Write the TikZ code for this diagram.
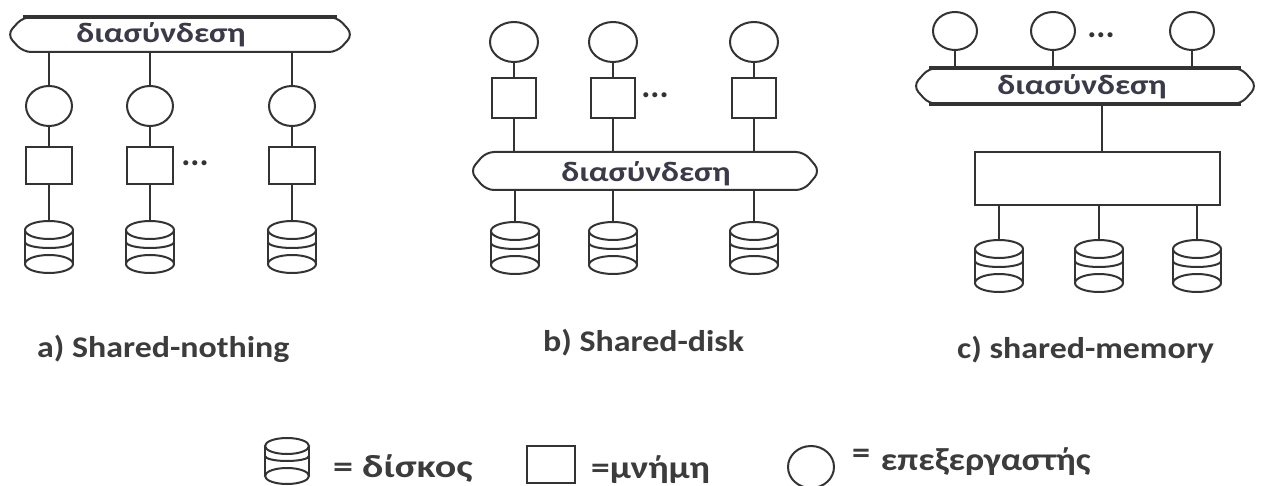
\documentclass[tikz,border=0pt]{standalone}
\usepackage{fontspec}
\setmainfont{Carlito}
\newfontfamily\labfont[FakeStretch=1.13]{Carlito}
\newfontfamily\legfont[FakeStretch=1.25]{Carlito}
\newfontfamily\legbfont[FakeStretch=1.17]{Carlito}
\newfontfamily\busfont[FakeStretch=1.2]{Carlito}
\usetikzlibrary{shapes.geometric,calc}
\definecolor{linec}{HTML}{333333}
\definecolor{textc}{HTML}{3C3C3C}
\definecolor{bustc}{HTML}{3A3A48}
\tikzset{
  ln/.style={draw=linec, line width=2pt},
  proc/.style={ellipse, ln, minimum width=46pt, minimum height=40pt, inner sep=0pt, outer sep=0pt},
  mem/.style={rectangle, ln, minimum width=46pt, minimum height=37pt, inner sep=0pt, outer sep=0pt},
  disknode/.style={rectangle, minimum width=48pt, minimum height=52pt, inner sep=0pt, outer sep=0pt},
  busnode/.style={rectangle, inner sep=0pt, outer sep=0pt},
  bustext/.style={text=bustc, font=\busfont\bfseries\fontsize{28}{30}\selectfont, inner sep=0pt, anchor=base},
  lab/.style={text=textc, font=\labfont\bfseries\fontsize{30}{32}\selectfont, inner sep=0pt},
  leg/.style={text=textc, font=\legfont\bfseries\fontsize{32}{34}\selectfont, inner sep=0pt},
  dotsn/.style={text=linec, font=\bfseries\fontsize{34}{34}\selectfont, inner sep=0pt},
}
\newcommand\cyl[5]{%
  \draw[ln] ([yshift=-#3]#1.north) ellipse[x radius=#2, y radius=#3];
  \draw[ln] ([yshift=#3]#1.south) ellipse[x radius=#2, y radius=#3];
  \draw[ln] ([yshift=-#3]#1.north west) -- ([yshift=#3]#1.south west);
  \draw[ln] ([yshift=-#3]#1.north east) -- ([yshift=#3]#1.south east);
  \draw[ln] ([yshift=-#4]#1.north west) arc[start angle=180, end angle=360, x radius=#2, y radius=#5];
}
\newcommand\busshape[1]{%
  \draw[ln, rounded corners=8pt] ([xshift=16pt]#1.north west) -- (#1.west) -- ([xshift=16pt]#1.south west) -- ([xshift=-16pt]#1.south east) -- (#1.east) -- ([xshift=-16pt]#1.north east) -- cycle;
}
\begin{document}
\begin{tikzpicture}[x=1pt, y=-1pt]
\useasboundingbox (0,0) rectangle (1261,486);
\fill[white] (0,0) rectangle (1261,486);

% ---------- panel a ----------
\node[busnode, minimum width=346pt, minimum height=35pt] (busA) at (180,34.5) {};
\busshape{busA}
\draw[linec, line width=4pt] ([xshift=16pt]busA.north west) -- ([xshift=-16pt]busA.north east);
\node[bustext] (busAt) at (161,43) {διασύνδεση};
\foreach \i/\x in {1/49, 2/150, 3/292} {
  \node[proc] (pa\i) at (\x,106) {};
  \node[mem] (ma\i) at (\x,166) {};
  \node[disknode] (da\i) at (\x,247) {};
  \cyl{da\i}{24pt}{9pt}{21pt}{6pt}
  \draw[ln] (pa\i |- busA.south) -- (pa\i.north);
  \draw[ln] (pa\i.south) -- (ma\i.north);
  \draw[ln] (ma\i.south) -- (da\i.north);
}
\node[dotsn] (dotsA) at (195,163) {...};

% ---------- panel b ----------
\foreach \i/\x in {1/514, 2/613, 3/754} {
  \node[proc, minimum width=48pt] (pb\i) at (\x,42) {};
  \node[mem, minimum width=44pt, minimum height=40pt] (mb\i) at (\x,98) {};
}
\node[busnode, minimum width=350pt, minimum height=38pt] (busB) at (645,171) {};
\busshape{busB}
\node[bustext] (busBt) at (646,182) {διασύνδεση};
\foreach \i/\x in {1/515, 2/613, 3/754} {
  \node[disknode] (db\i) at (\x,248) {};
  \cyl{db\i}{24pt}{9pt}{21pt}{6pt}
}
\foreach \i in {1,2,3} {
  \draw[ln] (pb\i.south) -- (mb\i.north);
  \draw[ln] (mb\i.south) -- (mb\i |- busB.north);
  \draw[ln] (db\i |- busB.south) -- (db\i.north);
}
\node[dotsn] (dotsB) at (655,95) {...};

% ---------- panel c ----------
\foreach \i/\x in {1/955, 2/1053, 3/1192} {
  \node[proc, minimum width=44pt, minimum height=38pt] (pc\i) at (\x,31) {};
}
\node[busnode, minimum width=344pt, minimum height=36pt] (busC) at (1085,86) {};
\busshape{busC}
\draw[linec, line width=4pt] ([xshift=16pt]busC.north west) -- ([xshift=-16pt]busC.north east);
\draw[linec, line width=4pt] ([xshift=16pt]busC.south west) -- ([xshift=-16pt]busC.south east);
\node[bustext] (busCt) at (1082,95) {διασύνδεση};
\foreach \i in {1,2,3} {
  \draw[ln] (pc\i.south) -- (pc\i |- busC.north);
}
\node[dotsn] (dotsC) at (1101,35) {...};
\node[mem, minimum width=245pt, minimum height=53pt] (memC) at (1097.5,178.5) {};
\coordinate (cl) at (1102,0);
\draw[ln] (cl |- busC.south) -- (cl |- memC.north);
\foreach \i/\x in {1/999, 2/1099, 3/1197} {
  \node[disknode] (dc\i) at (\x,266) {};
  \cyl{dc\i}{24pt}{9pt}{21pt}{6pt}
  \draw[ln] (dc\i |- memC.south) -- (dc\i.north);
}

% ---------- captions ----------
\node[lab, anchor=base west] (capA) at (37,357) {a) Shared-nothing};
\node[lab, anchor=base west] (capB) at (543,352) {b) Shared-disk};
\node[lab, anchor=base west] (capC) at (957,358) {c) shared-memory};

% ---------- legend ----------
\node[disknode, minimum width=44pt, minimum height=46pt] (ld) at (287,461) {};
\cyl{ld}{22pt}{8pt}{18pt}{5pt}
\node[leg, anchor=base west] (ldt) at (333,477) {= δίσκος};
\node[mem, minimum width=48pt, minimum height=37pt] (lm) at (551,464.5) {};
\node[leg, font=\legbfont\bfseries\fontsize{32}{34}\selectfont, anchor=base west] (lmt) at (591,478) {=μνήμη};
\node[proc, minimum width=46pt, minimum height=42pt] (lp) at (811,467) {};
\node[leg, font=\labfont\bfseries\fontsize{32}{34}\selectfont, anchor=base west] (lpt) at (852,470) {\raisebox{7pt}{=}\,\,επεξεργαστής};
\end{tikzpicture}
\end{document}
